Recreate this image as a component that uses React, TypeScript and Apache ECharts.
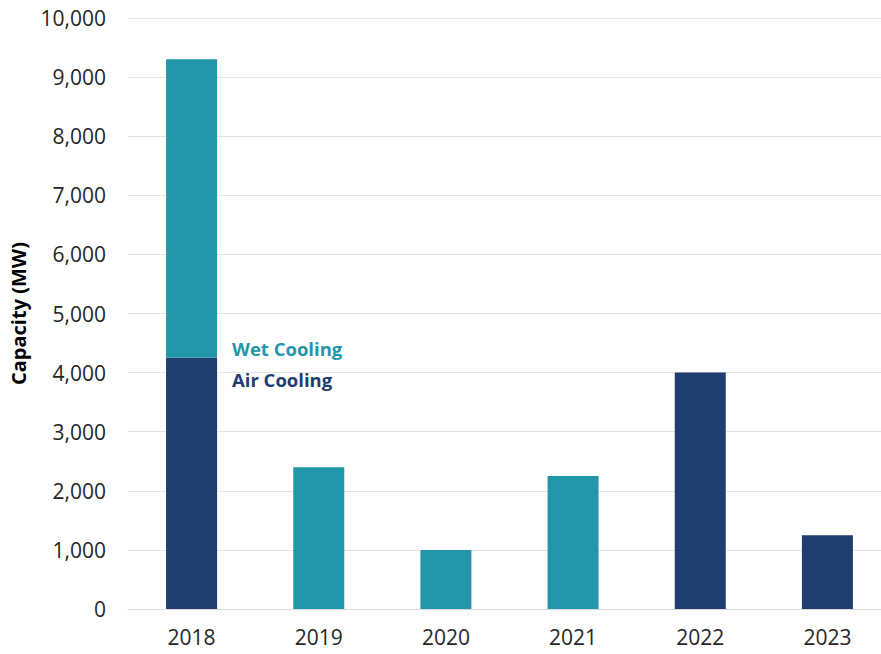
import React, { useEffect, useRef } from "react";
import * as echarts from "echarts";

const categories = ["2018", "2019", "2020", "2021", "2022", "2023"];
const airCooling = [4250, "-", "-", "-", 4000, 1250];
const wetCooling = [5050, 2400, 1000, 2250, "-", "-"];
const yTicks = { min: 0, max: 10000, interval: 1000 };

const FONT = "'Open Sans', 'Noto Sans', sans-serif";
const WET = "#2397A9";
const AIR = "#1F3D6E";

export default function App() {
  const ref = useRef<HTMLDivElement>(null);
  useEffect(() => {
    if (!ref.current) return;
    const chart = echarts.init(ref.current, undefined, { renderer: "svg" });
    chart.setOption({
      animation: false,
      backgroundColor: "#ffffff",
      grid: { left: 128, top: 18, bottom: 45, right: -10, containLabel: false, outerBoundsMode: "none" },
      xAxis: {
        type: "category",
        data: categories,
        axisLine: { show: true, lineStyle: { color: "#d9d9d9", width: 1 } },
        axisTick: { show: false },
        axisLabel: { color: "#262626", fontSize: 21, fontFamily: FONT, margin: 17 },
      },
      yAxis: {
        type: "value",
        min: yTicks.min,
        max: yTicks.max,
        interval: yTicks.interval,
        name: "Capacity (MW)",
        nameLocation: "middle",
        nameGap: 100,
        nameTextStyle: { color: "#000000", fontSize: 20, fontWeight: "bold", fontFamily: FONT },
        axisLine: { show: false },
        axisTick: { show: false },
        splitLine: { lineStyle: { color: "#e3e3e3", width: 1 } },
        axisLabel: {
          color: "#262626",
          fontSize: 21,
          fontFamily: FONT,
          margin: 22,
          formatter: (v: number) => v.toLocaleString("en-US"),
        },
      },
      series: [
        {
          name: "Air Cooling",
          type: "bar",
          stack: "total",
          data: airCooling,
          barWidth: 51,
          itemStyle: { color: AIR },
        },
        {
          name: "Wet Cooling",
          type: "bar",
          stack: "total",
          data: wetCooling,
          barWidth: 51,
          itemStyle: { color: WET },
        },
      ],
      graphic: [
        {
          type: "text",
          left: 232,
          top: 339,
          style: { text: "Wet Cooling", fill: WET, fontSize: 18.5, fontWeight: "bold", fontFamily: FONT },
        },
        {
          type: "text",
          left: 232,
          top: 370,
          style: { text: "Air Cooling", fill: AIR, fontSize: 18.5, fontWeight: "bold", fontFamily: FONT },
        },
      ],
    });
    return () => chart.dispose();
  }, []);
  return <div ref={ref} style={{ width: 881, height: 654, position: "absolute", left: 0, top: 0 }} />;
}
